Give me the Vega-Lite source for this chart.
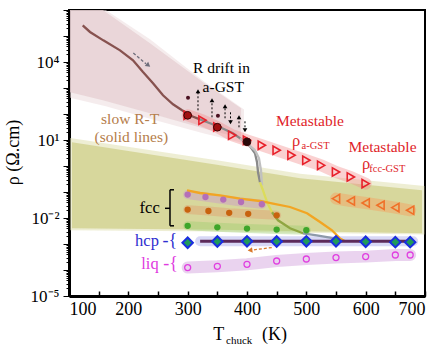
{
"$schema": "https://vega.github.io/schema/vega-lite/v6.json",
"width": 356, "height": 286,
"autosize": "none",
"padding": {"left": 69, "top": 10, "right": 16, "bottom": 49},
"background": "white",
"config": {"view": {"stroke": "black", "strokeWidth": 2}, "text": {"font": "Liberation Serif"}, "axis": {"labelFont": "Liberation Serif", "titleFont": "Liberation Serif"}},
"datasets": {
"pink": [{"T":101.7,"rho":1e6,"rho2":684},{"T":157,"rho":1e6,"rho2":336},{"T":236.5,"rho":52400,"rho2":106},{"T":326,"rho":1656,"rho2":28},{"T":390,"rho":166,"rho2":11.6}],
"pinkouter": [{"T":101.7,"rho":1e6,"rho2":420},{"T":162,"rho":1e6,"rho2":200},{"T":236.5,"rho":75000,"rho2":65},{"T":326,"rho":1900,"rho2":18},{"T":395,"rho":150,"rho2":7.5}],
"olive": [{"T":105,"rho":8.17,"rho2":0.00402},{"T":354.5,"rho":1.06,"rho2":0.00352},{"T":489.4,"rho":0.337,"rho2":0.00308},{"T":695,"rho":0.116,"rho2":0.00258}],
"oliveouter": [{"T":102,"rho":12,"rho2":0.0034},{"T":354.5,"rho":1.6,"rho2":0.003},{"T":489.4,"rho":0.5,"rho2":0.0027},{"T":699,"rho":0.17,"rho2":0.0023}],
"redtri": [{"T":300,"rho":89.1},{"T":325,"rho":57.3},{"T":350,"rho":31.6},{"T":375,"rho":15.2},{"T":400,"rho":9.73},{"T":425,"rho":6.25},{"T":450,"rho":4.02},{"T":475,"rho":2.58},{"T":500,"rho":1.66},{"T":525,"rho":1.06},{"T":550,"rho":0.587},{"T":575,"rho":0.378},{"T":600,"rho":0.21}],
"orgtri": [{"T":550,"rho":0.0557},{"T":575,"rho":0.0451},{"T":600,"rho":0.0378},{"T":625,"rho":0.0308},{"T":650,"rho":0.0251},{"T":675,"rho":0.0198}],
"purple": [{"T":300,"rho":0.0794},{"T":330,"rho":0.0643},{"T":360,"rho":0.051},{"T":390,"rho":0.0412},{"T":425,"rho":0.0337}],
"orange": [{"T":300,"rho":0.021},{"T":335,"rho":0.0186},{"T":370,"rho":0.0158},{"T":402,"rho":0.0145},{"T":450,"rho":0.0127}],
"green": [{"T":300,"rho":0.00501},{"T":350,"rho":0.00439},{"T":400,"rho":0.00391},{"T":450,"rho":0.00358},{"T":500,"rho":0.00337}],
"hcp": [{"T":300,"rho":0.00112},{"T":350,"rho":0.00125},{"T":400,"rho":0.00127},{"T":450,"rho":0.00125},{"T":500,"rho":0.00127},{"T":550,"rho":0.00127},{"T":600,"rho":0.00122},{"T":650,"rho":0.00118},{"T":675,"rho":0.00118}],
"liq": [{"T":300,"rho":0.000124},{"T":350,"rho":0.000139},{"T":400,"rho":0.000166},{"T":450,"rho":0.000222},{"T":500,"rho":0.000265},{"T":550,"rho":0.0003},{"T":600,"rho":0.000327},{"T":650,"rho":0.000378},{"T":675,"rho":0.000378}],
"hcpline": [{"T":321,"rho":0.00127},{"T":680,"rho":0.00127}],
"curves": [
{"s":"brown","T":123.1,"rho":258000},{"s":"brown","T":135.4,"rho":143000},{"s":"brown","T":157.8,"rho":68000},{"s":"brown","T":186,"rho":28000},{"s":"brown","T":207.9,"rho":11600},{"s":"brown","T":224.7,"rho":4100},{"s":"brown","T":241.6,"rho":1520},{"s":"brown","T":258.4,"rho":524},{"s":"brown","T":275.3,"rho":236},{"s":"brown","T":290.5,"rho":139},{"s":"brown","T":307.3,"rho":81.6},{"s":"brown","T":320.8,"rho":62.5},
{"s":"gray","T":320.8,"rho":62.5},{"s":"gray","T":337.7,"rho":43.9},{"s":"gray","T":354.5,"rho":30.8},{"s":"gray","T":376.4,"rho":18.1},{"s":"gray","T":393.3,"rho":9.73},{"s":"gray","T":405.1,"rho":5.73},{"s":"gray","T":413.5,"rho":3.08},{"s":"gray","T":416.9,"rho":1.39},{"s":"gray","T":418.6,"rho":0.573},{"s":"gray","T":421.9,"rho":0.236},
{"s":"lgray","T":388.2,"rho":11.6},{"s":"lgray","T":401.7,"rho":6.84},{"s":"lgray","T":413.5,"rho":4.02},{"s":"lgray","T":420.2,"rho":1.98},{"s":"lgray","T":423.6,"rho":0.684},{"s":"lgray","T":425.3,"rho":0.181},
{"s":"yel","T":421.9,"rho":0.236},{"s":"yel","T":427,"rho":0.116},{"s":"yel","T":430.4,"rho":0.0684},{"s":"yel","T":435.4,"rho":0.0337},{"s":"yel","T":442.2,"rho":0.01656},
{"s":"grn","T":442.2,"rho":0.01656},{"s":"grn","T":452.3,"rho":0.00817},{"s":"grn","T":472.5,"rho":0.00402},{"s":"grn","T":494.4,"rho":0.00258},
{"s":"gblue","T":494.4,"rho":0.00258},{"s":"gblue","T":517.5,"rho":0.00216},{"s":"gblue","T":539.9,"rho":0.00176},{"s":"gblue","T":551.7,"rho":0.00152},{"s":"gblue","T":560,"rho":0.00135},
{"s":"orng","T":298.9,"rho":0.116},{"s":"orng","T":320.8,"rho":0.0916},{"s":"orng","T":354.5,"rho":0.0746},{"s":"orng","T":388.2,"rho":0.0557},{"s":"orng","T":421.9,"rho":0.0451},{"s":"orng","T":443.8,"rho":0.0358},{"s":"orng","T":472.5,"rho":0.0265},{"s":"orng","T":501.2,"rho":0.0152},{"s":"orng","T":523.1,"rho":0.00702},{"s":"orng","T":543.3,"rho":0.00337},{"s":"orng","T":556.8,"rho":0.00161},{"s":"orng","T":565.2,"rho":0.00127}
],
"balls": [{"T":300,"rho":89},{"T":350,"rho":31},{"T":400,"rho":8.5}],
"drift": [{"T":300.6,"rho":420},{"T":351,"rho":85.3}],
"arrows": [{"T":317.4,"rho":139,"rho2":747,"dir":"up"},{"T":341,"rho":74.6,"rho2":336,"dir":"up"},{"T":363,"rho":68.4,"rho2":198,"dir":"up"},{"T":372.2,"rho":116,"rho2":48,"dir":"down"},{"T":386.5,"rho":30.8,"rho2":74.6,"dir":"up"},{"T":396.6,"rho":52.4,"rho2":23.6,"dir":"down"}],
"bracket": [{"T":270.2,"T2":270.2,"rho":0.1216,"rho2":0.00501},{"T":270.2,"T2":277,"rho":0.1216,"rho2":0.1216},{"T":270.2,"T2":277,"rho":0.00501,"rho2":0.00501},{"T":261.8,"T2":270.2,"rho":0.0236,"rho2":0.0236}]
},
"encoding": {
"x": {"field": "T", "type": "quantitative",
 "scale": {"domain": [100, 700], "nice": false, "zero": false},
 "axis": {"values": [100,150,200,250,300,350,400,450,500,550,600,650,700],
  "labelExpr": "datum.value % 100 === 0 ? datum.label : ''",
  "title": null, "grid": false, "domainColor": "black", "domainWidth": 3,
  "tickColor": "black", "tickWidth": 1.5, "tickSize": -5,
  "labelFontSize": 18, "labelColor": "black", "labelFont": "Liberation Serif", "labelPadding": 9, "labelOverlap": false}},
"y": {"field": "rho", "type": "quantitative",
 "scale": {"type": "log", "domain": [0.00001, 1000000], "nice": false},
 "axis": {"values": [1e-5,2e-5,3e-5,4e-5,5e-5,6e-5,7e-5,8e-5,9e-5,1e-4,2e-4,3e-4,4e-4,5e-4,6e-4,7e-4,8e-4,9e-4,0.001,0.002,0.003,0.004,0.005,0.006,0.007,0.008,0.009,0.01,0.02,0.03,0.04,0.05,0.06,0.07,0.08,0.09,0.1,0.2,0.3,0.4,0.5,0.6,0.7,0.8,0.9,1,2,3,4,5,6,7,8,9,10,20,30,40,50,60,70,80,90,100,200,300,400,500,600,700,800,900,1000,2000,3000,4000,5000,6000,7000,8000,9000,10000,20000,30000,40000,50000,60000,70000,80000,90000,100000,200000,300000,400000,500000,600000,700000,800000,900000,1000000],
  "labelExpr": "abs(log(datum.value)/LN10-4)<0.001 ? '10⁴' : abs(log(datum.value)/LN10-1)<0.001 ? '10¹' : abs(log(datum.value)/LN10+2)<0.001 ? '10⁻²' : abs(log(datum.value)/LN10+5)<0.001 ? '10⁻⁵' : ''",
  "title": "ρ (Ω.cm)", "titleFont": "Liberation Serif", "titleFontSize": 18, "titleFontWeight": "normal", "titleColor": "black",
  "titleX": -56, "titleY": 142, "titleAngle": -90, "titleAlign": "center", "titleBaseline": "middle",
  "grid": false, "domainColor": "black", "domainWidth": 3, "tickColor": "black", "tickWidth": 1,
  "tickSize": {"condition": {"test": "abs(log(datum.value)/LN10 - round(log(datum.value)/LN10)) < 0.001", "value": 6}, "value": 3},
  "labelFontSize": 17, "labelColor": "black", "labelFont": "Liberation Serif", "labelPadding": 4, "labelOverlap": false}}
},
"layer": [
{"data": {"name": "pinkouter"}, "mark": {"type": "area", "color": "#ecdcde", "opacity": 0.55}, "encoding": {"y2": {"field": "rho2"}}},
{"data": {"name": "pink"}, "mark": {"type": "area", "color": "#e6cfd1", "opacity": 0.75}, "encoding": {"y2": {"field": "rho2"}}},
{"data": {"name": "oliveouter"}, "mark": {"type": "area", "color": "#e2e2b8", "opacity": 0.6}, "encoding": {"y2": {"field": "rho2"}}},
{"data": {"name": "olive"}, "mark": {"type": "area", "color": "#d4d496", "opacity": 0.9}, "encoding": {"y2": {"field": "rho2"}}},
{"data": {"name": "redtri"}, "mark": {"type": "line", "color": "#f28c8c", "strokeWidth": 12, "opacity": 0.4, "strokeCap": "round"}, "encoding": {}},
{"data": {"name": "orgtri"}, "mark": {"type": "line", "color": "#f7a060", "strokeWidth": 12, "opacity": 0.45, "strokeCap": "round"}, "encoding": {}},
{"data": {"name": "purple"}, "mark": {"type": "line", "color": "#c99acb", "strokeWidth": 9, "opacity": 0.45, "strokeCap": "round"}, "encoding": {}},
{"data": {"name": "orange"}, "mark": {"type": "line", "color": "#e0a070", "strokeWidth": 9, "opacity": 0.45, "strokeCap": "round"}, "encoding": {}},
{"data": {"name": "green"}, "mark": {"type": "line", "color": "#9ccc6e", "strokeWidth": 9, "opacity": 0.4, "strokeCap": "round"}, "encoding": {}},
{"data": {"name": "liq"}, "mark": {"type": "line", "color": "#d6a8e0", "strokeWidth": 12, "opacity": 0.5, "strokeCap": "round"}, "encoding": {}},
{"data": {"name": "hcpline"}, "mark": {"type": "line", "color": "#8e8ee6", "strokeWidth": 10, "opacity": 0.35, "strokeCap": "round"}, "encoding": {}},
{"data": {"name": "curves"}, "mark": {"type": "line", "strokeWidth": 2.3},
 "encoding": {"color": {"field": "s", "type": "nominal", "legend": null,
  "scale": {"domain": ["brown","gray","lgray","yel","grn","gblue","orng"], "range": ["#87524f","#8a8a8a","#c0c0c0","#dcdc5a","#8fa642","#8e9aaa","#f2a523"]}},
  "detail": {"field": "s"}}},
{"data": {"name": "hcpline"}, "mark": {"type": "line", "color": "#5c2a5a", "strokeWidth": 3}, "encoding": {}},
{"data": {"name": "purple"}, "mark": {"type": "point", "filled": true, "color": "#b46fb8", "size": 40, "opacity": 1}, "encoding": {}},
{"data": {"name": "orange"}, "mark": {"type": "point", "filled": true, "color": "#c8620e", "size": 40, "opacity": 1}, "encoding": {}},
{"data": {"name": "green"}, "mark": {"type": "point", "filled": true, "color": "#3ea52a", "size": 40, "opacity": 1}, "encoding": {}},
{"data": {"name": "liq"}, "mark": {"type": "point", "filled": false, "color": "#e040e0", "size": 36, "strokeWidth": 1.3, "opacity": 1}, "encoding": {}},
{"data": {"name": "hcp"}, "mark": {"type": "point", "shape": "diamond", "filled": true, "fill": "#1f9a5a", "stroke": "#1a2ee0", "strokeWidth": 2, "size": 110, "opacity": 1}, "encoding": {}},
{"data": {"name": "redtri"}, "mark": {"type": "point", "shape": "triangle-right", "filled": false, "color": "#e8202a", "strokeWidth": 1.6, "size": 70, "opacity": 1}, "encoding": {}},
{"data": {"name": "orgtri"}, "mark": {"type": "point", "shape": "triangle-left", "filled": false, "color": "#f07028", "strokeWidth": 1.6, "size": 70, "opacity": 1}, "encoding": {}},
{"data": {"name": "balls"}, "mark": {"type": "point", "filled": true, "size": 60, "opacity": 1, "stroke": "#3a0505", "strokeWidth": 1},
 "encoding": {"color": {"condition": {"test": "datum.T == 400", "value": "#2a0a0a"}, "value": "#a01010"}}},
{"data": {"name": "drift"}, "mark": {"type": "point", "filled": true, "color": "#4a1020", "size": 16, "opacity": 1}, "encoding": {}},
{"data": {"name": "arrows"}, "mark": {"type": "rule", "color": "black", "strokeWidth": 1, "strokeDash": [2, 2]}, "encoding": {"y2": {"field": "rho2"}}},
{"data": {"name": "arrows"}, "mark": {"type": "point", "filled": true, "color": "black", "size": 22, "opacity": 1},
 "encoding": {"y": {"field": "rho2", "type": "quantitative"}, "shape": {"condition": {"test": "datum.dir == 'up'", "value": "triangle-up"}, "value": "triangle-down"}}},
{"data": {"values": [{"T": 208.4, "rho": 22200, "T2": 229.8, "rho2": 8530}]}, "mark": {"type": "rule", "color": "#6d6d7a", "strokeWidth": 1.3, "strokeDash": [3, 2]}, "encoding": {"x2": {"field": "T2"}, "y2": {"field": "rho2"}}},
{"data": {"values": [{"T": 233.7, "rho": 7470}]}, "mark": {"type": "point", "shape": "triangle-right", "angle": 39, "filled": true, "color": "#6d6d7a", "size": 30, "opacity": 1}, "encoding": {}},
{"data": {"values": [{"T": 441.7, "rho": 0.000728, "T2": 411.8, "rho2": 0.000598}]}, "mark": {"type": "rule", "color": "#d9782a", "strokeWidth": 1.3, "strokeDash": [3, 2]}, "encoding": {"x2": {"field": "T2"}, "y2": {"field": "rho2"}}},
{"data": {"values": [{"T": 405.1, "rho": 0.000573}]}, "mark": {"type": "point", "shape": "triangle-left", "angle": -8, "filled": true, "color": "#d9782a", "size": 30, "opacity": 1}, "encoding": {}},
{"data": {"name": "bracket"}, "mark": {"type": "rule", "color": "black", "strokeWidth": 1.5}, "encoding": {"x2": {"field": "T2"}, "y2": {"field": "rho2"}}},
{"data": {"values": [{"T": 357, "rho": 5750, "txt": "R drift in"}, {"T": 360, "rho": 1070, "txt": "a-GST"}]},
 "mark": {"type": "text", "font": "Liberation Serif", "fontSize": 15.5, "color": "black", "align": "center", "baseline": "middle"}, "encoding": {"text": {"field": "txt"}}},
{"data": {"values": [{"T": 236, "rho": 0.0236, "txt": "fcc"}]},
 "mark": {"type": "text", "font": "Liberation Serif", "fontSize": 16.5, "color": "black", "align": "center", "baseline": "middle"}, "encoding": {"text": {"field": "txt"}}},
{"data": {"values": [{"T": 203, "rho": 65.3, "txt": "slow R-T"}, {"T": 205, "rho": 12.7, "txt": "(solid lines)"}]},
 "mark": {"type": "text", "font": "Liberation Serif", "fontSize": 15.5, "color": "#b57d4a", "align": "center", "baseline": "middle"}, "encoding": {"text": {"field": "txt"}}},
{"data": {"values": [{"T": 506, "rho": 53.7, "txt": "Metastable"}, {"T": 628.4, "rho": 5.37, "txt": "Metastable"}]},
 "mark": {"type": "text", "font": "Liberation Serif", "fontSize": 15.5, "color": "#e01f2b", "align": "center", "baseline": "middle"}, "encoding": {"text": {"field": "txt"}}},
{"data": {"values": [{"T": 476, "rho": 5.73, "txt": "ρ"}, {"T": 594, "rho": 0.746, "txt": "ρ"}]},
 "mark": {"type": "text", "font": "Liberation Serif", "fontSize": 16.5, "color": "#e01f2b", "align": "left", "baseline": "alphabetic"}, "encoding": {"text": {"field": "txt"}}},
{"data": {"values": [{"T": 492, "rho": 4.32, "txt": "a-GST"}, {"T": 606, "rho": 0.573, "txt": "fcc-GST"}]},
 "mark": {"type": "text", "font": "Liberation Serif", "fontSize": 10.5, "color": "#e01f2b", "align": "left", "baseline": "alphabetic"}, "encoding": {"text": {"field": "txt"}}},
{"data": {"values": [{"T": 231.5, "rho": 0.0013, "txt": "hcp"}]},
 "mark": {"type": "text", "font": "Liberation Serif", "fontSize": 16.5, "color": "#2f2fd0", "align": "center", "baseline": "middle"}, "encoding": {"text": {"field": "txt"}}},
{"data": {"values": [{"T": 257.5, "rho": 0.0013, "txt": "-{"}]},
 "mark": {"type": "text", "font": "Liberation Serif", "fontSize": 18, "color": "#2f2fd0", "align": "left", "baseline": "middle"}, "encoding": {"text": {"field": "txt"}}},
{"data": {"values": [{"T": 236.5, "rho": 0.000176, "txt": "liq"}]},
 "mark": {"type": "text", "font": "Liberation Serif", "fontSize": 16.5, "color": "#e03ae0", "align": "center", "baseline": "middle"}, "encoding": {"text": {"field": "txt"}}},
{"data": {"values": [{"T": 259, "rho": 0.000176, "txt": "-{"}]},
 "mark": {"type": "text", "font": "Liberation Serif", "fontSize": 18, "color": "#e03ae0", "align": "left", "baseline": "middle"}, "encoding": {"text": {"field": "txt"}}},
{"data": {"values": [{"T": 343, "rho": 3.08e-7, "txt": "T"}, {"T": 425.3, "rho": 3.08e-7, "txt": "(K)"}]},
 "mark": {"type": "text", "font": "Liberation Serif", "fontSize": 18, "color": "black", "align": "left", "baseline": "middle"}, "encoding": {"text": {"field": "txt"}}},
{"data": {"values": [{"T": 364.6, "rho": 1.81e-7, "txt": "chuck"}]},
 "mark": {"type": "text", "font": "Liberation Serif", "fontSize": 11, "color": "black", "align": "left", "baseline": "middle"}, "encoding": {"text": {"field": "txt"}}}
]
}
